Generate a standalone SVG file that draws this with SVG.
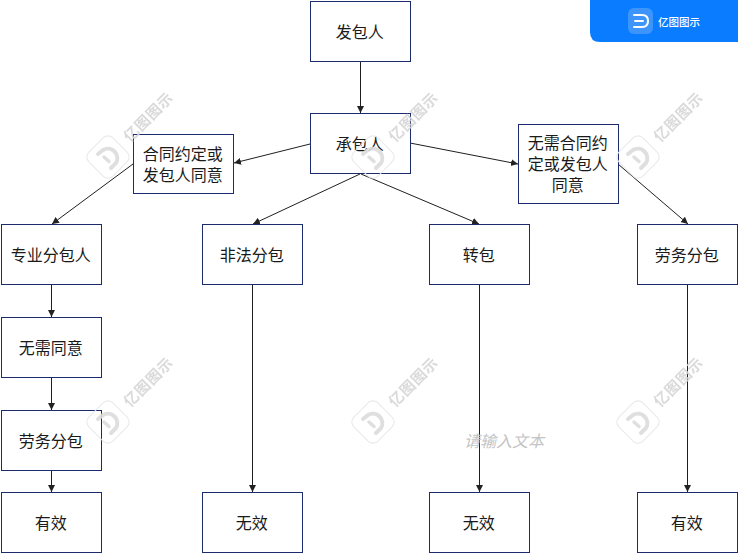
<svg xmlns="http://www.w3.org/2000/svg" width="738" height="553" viewBox="0 0 738 553">
<style>
.b{fill:#fff;stroke:#1c2a6e;stroke-width:1}
.t{font-family:"Noto Sans CJK SC","Liberation Sans",sans-serif;font-size:16px;fill:#1a1a1a;text-anchor:middle}
.c{fill:none;stroke:#1f1f1f;stroke-width:1}
.wt{font-family:"Noto Sans CJK SC","Liberation Sans",sans-serif;font-size:15px;font-weight:700;fill:#d6d6d6}
</style>
<defs>
<marker id="a" markerUnits="userSpaceOnUse" markerWidth="10" markerHeight="10" refX="7" refY="3.5" orient="auto"><path d="M0 0L7 3.5L0 7Z" fill="#222"/></marker>
<g id="wm">
<rect x="-17" y="-17" width="34" height="34" rx="7" transform="rotate(45)" fill="none" stroke="#e8e8e8" stroke-width="1.2"/>
<path d="M-10 -3L-5 -7A9.5 9.5 0 0 1 8 6L3 11" fill="none" stroke="#dcdcdc" stroke-width="4" stroke-linecap="round" stroke-linejoin="round"/>
<path d="M-4 0L1 4.500" fill="none" stroke="#dcdcdc" stroke-width="3.500" stroke-linecap="round"/>
<text class="wt" x="22" y="-14" transform="rotate(-45 22 -14)" textLength="62">亿图图示</text>
</g>
</defs>
<rect width="738" height="553" fill="#fff"/>
<g id="connectors">
<path class="c" marker-end="url(#a)" d="M360.5 62V113"/>
<path class="c" marker-end="url(#a)" d="M310 144L234 163"/>
<path class="c" marker-end="url(#a)" d="M410 143L518 164"/>
<path class="c" marker-end="url(#a)" d="M133 164L52 224"/>
<path class="c" marker-end="url(#a)" d="M360 174L253 224"/>
<path class="c" marker-end="url(#a)" d="M361 174L479 224"/>
<path class="c" marker-end="url(#a)" d="M618 164L688 224"/>
<path class="c" marker-end="url(#a)" d="M51.5 285V317"/>
<path class="c" marker-end="url(#a)" d="M51.5 378V410"/>
<path class="c" marker-end="url(#a)" d="M51.5 471V492"/>
<path class="c" marker-end="url(#a)" d="M252.5 285V492"/>
<path class="c" marker-end="url(#a)" d="M479.5 285V492"/>
<path class="c" marker-end="url(#a)" d="M687.5 285V492"/>
</g>
<g id="n1"><rect class="b" x="310.5" y="1.5" width="100" height="60"/><text class="t" x="359.8" y="38">发包人</text></g>
<g id="n2"><rect class="b" x="310.5" y="113.5" width="100" height="60"/><text class="t" x="359.8" y="150">承包人</text></g>
<g id="n3"><rect class="b" x="133.5" y="134.5" width="100" height="59"/><text class="t" x="182.8" y="160">合同约定或</text><text class="t" x="182.8" y="181">发包人同意</text></g>
<g id="n4"><rect class="b" x="518.5" y="124.5" width="100" height="79"/><text class="t" x="567.8" y="149">无需合同约</text><text class="t" x="567.8" y="170">定或发包人</text><text class="t" x="567.8" y="191">同意</text></g>
<g id="n5"><rect class="b" x="1.5" y="224.5" width="100" height="60"/><text class="t" x="50.8" y="261">专业分包人</text></g>
<g id="n6"><rect class="b" x="202.5" y="224.5" width="100" height="60"/><text class="t" x="251.8" y="261">非法分包</text></g>
<g id="n7"><rect class="b" x="429.5" y="224.5" width="100" height="60"/><text class="t" x="478.8" y="261">转包</text></g>
<g id="n8"><rect class="b" x="637.5" y="224.5" width="100" height="60"/><text class="t" x="686.8" y="261">劳务分包</text></g>
<g id="n9"><rect class="b" x="1.5" y="317.5" width="100" height="60"/><text class="t" x="50.8" y="354">无需同意</text></g>
<g id="n10"><rect class="b" x="1.5" y="410.5" width="100" height="60"/><text class="t" x="50.8" y="447">劳务分包</text></g>
<g id="n11"><rect class="b" x="1.5" y="492.5" width="100" height="60"/><text class="t" x="50.8" y="529">有效</text></g>
<g id="n12"><rect class="b" x="202.5" y="492.5" width="100" height="60"/><text class="t" x="251.8" y="529">无效</text></g>
<g id="n13"><rect class="b" x="429.5" y="492.5" width="100" height="60"/><text class="t" x="478.8" y="529">无效</text></g>
<g id="n14"><rect class="b" x="637.5" y="492.5" width="100" height="60"/><text class="t" x="686.8" y="529">有效</text></g>
<text x="504" y="447" text-anchor="middle" font-family="'Noto Sans CJK SC','Liberation Sans',sans-serif" font-size="16" font-style="italic" fill="#c4c4c4">请输入文本</text>
<g id="watermarks" opacity="0.9">
<use href="#wm" x="108" y="157"/><use href="#wm" x="373" y="157"/><use href="#wm" x="638" y="157"/>
<use href="#wm" x="108" y="422"/><use href="#wm" x="373" y="422"/><use href="#wm" x="638" y="422"/>
</g>
<g id="badge">
<path d="M590 0H738V42H600Q590 42 590 32Z" fill="#0a7cff"/>
<rect x="628" y="8" width="25" height="26" rx="6" fill="#3d95fb"/>
<path d="M634 15H642Q648 15 648 21Q648 27 642 27H634M635 21H643" fill="none" stroke="#fff" stroke-width="2" stroke-linecap="round"/>
<text x="658" y="26" font-family="'Noto Sans CJK SC','Liberation Sans',sans-serif" font-size="10.5" font-weight="500" fill="#fff">亿图图示</text>
</g>
</svg>
